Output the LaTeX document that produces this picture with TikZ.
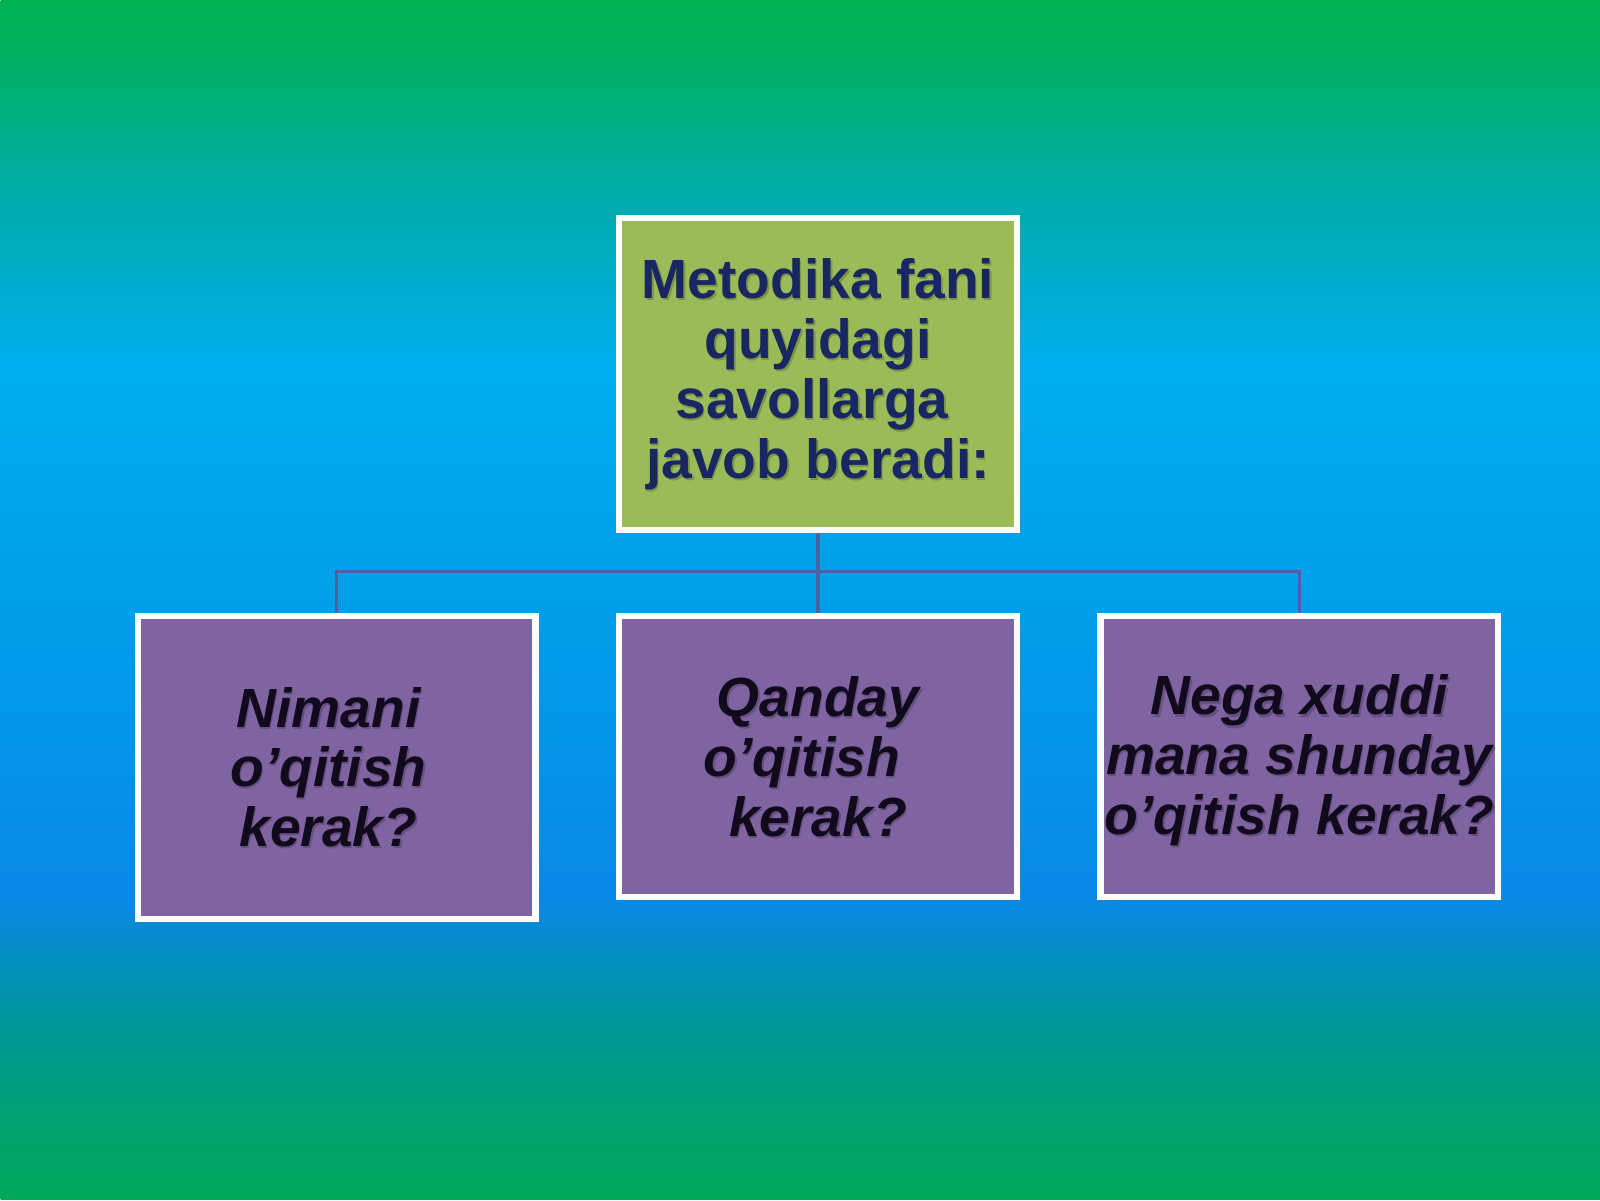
\documentclass[tikz,border=0pt]{standalone}
\usepackage{fontspec}
\setmainfont{Liberation Sans}
\usetikzlibrary{shadows}

\definecolor{bgA}{RGB}{0,168,90}
\definecolor{bgB}{RGB}{0,162,112}
\definecolor{bgC}{RGB}{0,150,155}
\definecolor{bgD}{RGB}{10,136,232}
\definecolor{bgE}{RGB}{0,155,232}
\definecolor{bgF}{RGB}{0,174,239}
\definecolor{bgG}{RGB}{0,172,165}
\definecolor{bgH}{RGB}{0,176,100}
\definecolor{bgI}{RGB}{0,178,80}
\definecolor{topgreen}{RGB}{155,187,89}
\definecolor{qpurple}{RGB}{128,100,162}
\definecolor{navyink}{RGB}{24,38,98}
\definecolor{qink}{RGB}{16,10,28}
\definecolor{linkc}{RGB}{78,96,160}

\pgfdeclareverticalshading{slidebg}{15.68cm}{%
color(0cm)=(bgA); color(0.76cm)=(bgB); color(1.76cm)=(bgC); color(2.96cm)=(bgD);
color(5.36cm)=(bgE); color(8.16cm)=(bgF); color(9.96cm)=(bgG); color(11.16cm)=(bgH);
color(11.76cm)=(bgI)}

\pgfdeclarelayer{bglayer}
\pgfdeclarelayer{links}
\pgfsetlayers{bglayer,links,main}

\tikzset{
  box/.style={draw=white, line width=0.06cm, minimum width=3.90cm, inner sep=0pt,
    drop shadow={opacity=0.2, shadow xshift=0.04cm, shadow yshift=-0.04cm}},
  topbox/.style={box, fill=topgreen, minimum height=3.06cm},
  qbox/.style={box, fill=qpurple},
  toptext/.style={font={\fontsize{15.4pt}{16.7pt}\selectfont\bfseries}, text=navyink, align=center, inner sep=0pt},
  qtext/.style={font={\fontsize{15.4pt}{16.7pt}\selectfont\bfseries\itshape}, text=qink, align=center, inner sep=0pt},
  txtshadow/.style={text=black, opacity=0.2},
  link/.style={draw=linkc, line width=0.03cm}
}

\begin{document}
\begin{tikzpicture}
\begin{pgfonlayer}{bglayer}
  \node[inner sep=0pt, anchor=south west] (bg) at (0,0) {\pgfuseshading{slidebg}};
\end{pgfonlayer}
\useasboundingbox (0,0) rectangle (15.68,11.76);

\node[topbox] (top) at (8.02,8.10) {};
\node[qbox, minimum height=2.97cm] (left) at (3.30,4.245) {};
\node[qbox, minimum height=2.76cm] (mid) at (8.02,4.35) {};
\node[qbox, minimum height=2.76cm] (right) at (12.74,4.35) {};

\coordinate (bus) at (8.02,6.16);
\begin{pgfonlayer}{links}
  \draw[link] (top.south) -- (bus);
  \draw[link] (bus) -| (left.north);
  \draw[link] (bus) -| (right.north);
  \draw[link] (bus) -- (mid.north);
\end{pgfonlayer}

% text shadows
\node[toptext, txtshadow] (topsh) at ([xshift=0.015cm,yshift=-0.02cm]top.center)
  {Metodika fani\\ quyidagi\\ savollarga\rule{0.12cm}{0pt}\\ javob beradi:};
\node[qtext, txtshadow] (leftsh) at ([xshift=-0.065cm,yshift=-0.02cm]left.center)
  {Nimani\\ o’qitish\\ kerak?};
\node[qtext, txtshadow] (midsh) at ([xshift=0.015cm,yshift=-0.02cm]mid.center)
  {Qanday\\ o’qitish\rule{0.32cm}{0pt}\\ kerak?};
\node[qtext, txtshadow] (rightsh) at ([xshift=0.015cm,yshift=-0.06cm]right.center)
  {Nega xuddi\\ mana shunday\\ o’qitish kerak?};

% texts
\node[toptext] (toptxt) at (top.center)
  {Metodika fani\\ quyidagi\\ savollarga\rule{0.12cm}{0pt}\\ javob beradi:};
\node[qtext] (lefttxt) at ([xshift=-0.08cm]left.center)
  {Nimani\\ o’qitish\\ kerak?};
\node[qtext] (midtxt) at (mid.center)
  {Qanday\\ o’qitish\rule{0.32cm}{0pt}\\ kerak?};
\node[qtext] (righttxt) at ([yshift=-0.04cm]right.center)
  {Nega xuddi\\ mana shunday\\ o’qitish kerak?};
\end{tikzpicture}
\end{document}
